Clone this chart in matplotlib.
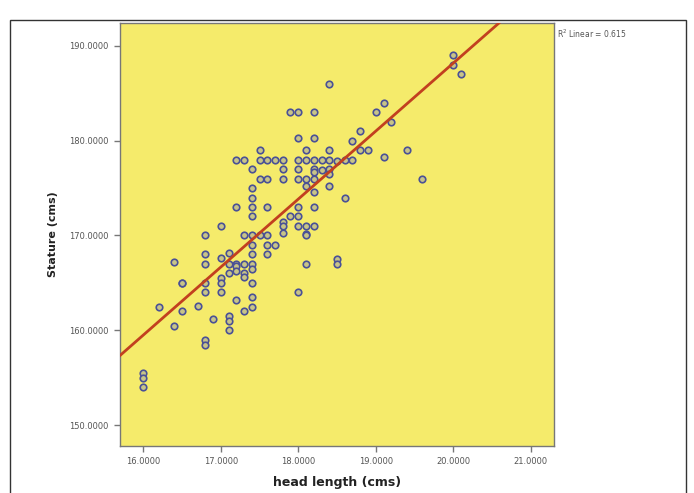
import numpy as np
import matplotlib
matplotlib.use("Agg")
import matplotlib.pyplot as plt
from matplotlib.patches import Rectangle

# head length (cms) grouped by value -> stature (cms) readings
HEAD = [16.0, 16.0, 16.0,
        16.2,
        16.4, 16.4,
        16.5, 16.5, 16.5,
        16.7,
        16.8, 16.8, 16.8, 16.8, 16.8, 16.8, 16.8,
        16.9,
        17.0, 17.0, 17.0, 17.0, 17.0,
        17.1, 17.1, 17.1, 17.1, 17.1, 17.1,
        17.2, 17.2, 17.2, 17.2, 17.2, 17.2,
        17.3, 17.3, 17.3, 17.3, 17.3, 17.3,
        17.4, 17.4, 17.4, 17.4, 17.4, 17.4, 17.4, 17.4, 17.4, 17.4, 17.4, 17.4, 17.4,
        17.5, 17.5, 17.5, 17.5,
        17.6, 17.6, 17.6, 17.6, 17.6, 17.6,
        17.7, 17.7,
        17.8, 17.8, 17.8, 17.8, 17.8, 17.8,
        17.9, 17.9,
        18.0, 18.0, 18.0, 18.0, 18.0, 18.0, 18.0, 18.0, 18.0,
        18.1, 18.1, 18.1, 18.1, 18.1, 18.1, 18.1, 18.1,
        18.2, 18.2, 18.2, 18.2, 18.2, 18.2, 18.2, 18.2, 18.2,
        18.3, 18.3,
        18.4, 18.4, 18.4, 18.4, 18.4, 18.4,
        18.5, 18.5, 18.5,
        18.6, 18.6,
        18.7, 18.7,
        18.8, 18.8,
        18.9,
        19.0,
        19.1, 19.1,
        19.2,
        19.4,
        19.6,
        20.0, 20.0,
        20.1]
STATURE = [155.5, 155.0, 154.0,
           162.5,
           167.2, 160.5,
           165.0, 165.0, 162.0,
           162.6,
           170.0, 168.0, 167.0, 165.0, 164.0, 159.0, 158.5,
           161.2,
           171.0, 167.6, 165.5, 165.0, 164.0,
           168.2, 167.0, 166.0, 161.5, 161.0, 160.0,
           178.0, 173.0, 167.0, 166.8, 166.2, 163.2,
           178.0, 170.0, 167.0, 166.0, 165.6, 162.0,
           177.0, 175.0, 174.0, 173.0, 172.0, 170.0, 169.0, 168.0, 167.0, 166.5, 165.0, 163.5, 162.5,
           179.0, 178.0, 176.0, 170.0,
           178.0, 176.0, 173.0, 170.0, 169.0, 168.0,
           178.0, 169.0,
           178.0, 177.0, 176.0, 171.4, 171.0, 170.3,
           183.0, 172.0,
           183.0, 180.3, 178.0, 177.0, 176.0, 173.0, 172.0, 171.0, 164.0,
           179.0, 178.0, 176.0, 175.2, 171.0, 170.2, 170.0, 167.0,
           183.0, 180.3, 178.0, 177.0, 176.7, 176.0, 174.6, 173.0, 171.0,
           178.0, 176.9,
           186.0, 179.0, 178.0, 177.0, 176.5, 175.2,
           177.8, 167.5, 167.0,
           178.0, 174.0,
           180.0, 178.0,
           181.0, 179.0,
           179.0,
           183.0,
           184.0, 178.3,
           182.0,
           179.0,
           176.0,
           189.0, 188.0,
           187.0]

X_TICKS = [16, 17, 18, 19, 20, 21]
Y_TICKS = [150, 160, 170, 180, 190]
R2_LABEL = "R$^2$ Linear = 0.615"

fig = plt.figure(figsize=(6.94, 4.93), dpi=100)
fig.patch.set_facecolor("white")

# outer frame of the figure panel
fig.patches.append(Rectangle((10 / 694, -0.1), 676 / 694, 1.08 - 10 / 493,
                             transform=fig.transFigure, fill=False,
                             edgecolor="#333333", linewidth=1.0))

ax = fig.add_axes([120 / 694, 1 - 446 / 493, 434 / 694, 423 / 493])
ax.set_facecolor("#f5eb6b")

ax.scatter(HEAD, STATURE, s=22, marker="o", facecolors="#c8c488",
           edgecolors="#4a5196", linewidths=1.2, zorder=3)

# least squares fit line
slope, icpt = np.polyfit(HEAD, STATURE, 1)
xl = np.array([15.7, 21.3])
ax.plot(xl, slope * xl + icpt, color="#c2401f", linewidth=2.0, zorder=4)

ax.set_xlim(15.7, 21.3)
ax.set_ylim(147.8, 192.4)
ax.set_xticks(X_TICKS)
ax.set_yticks(Y_TICKS)
ax.set_xticklabels([f"{v:.4f}" for v in X_TICKS])
ax.set_yticklabels([f"{v:.4f}" for v in Y_TICKS])
ax.tick_params(direction="out", length=4, width=1, color="#777777",
               labelsize=6, labelcolor="#555555", pad=4)
for s in ax.spines.values():
    s.set_color("#777777")
    s.set_linewidth(1.0)

ax.set_xlabel("head length (cms)", fontsize=9, fontweight="bold", color="#222222", labelpad=7)
ax.set_ylabel("Stature (cms)", fontsize=8, fontweight="bold", color="#222222", labelpad=8)

fig.text(557 / 694, 1 - 34 / 493, R2_LABEL, fontsize=5.5, color="#555555", va="center")

fig.savefig("out.png", dpi=100)
